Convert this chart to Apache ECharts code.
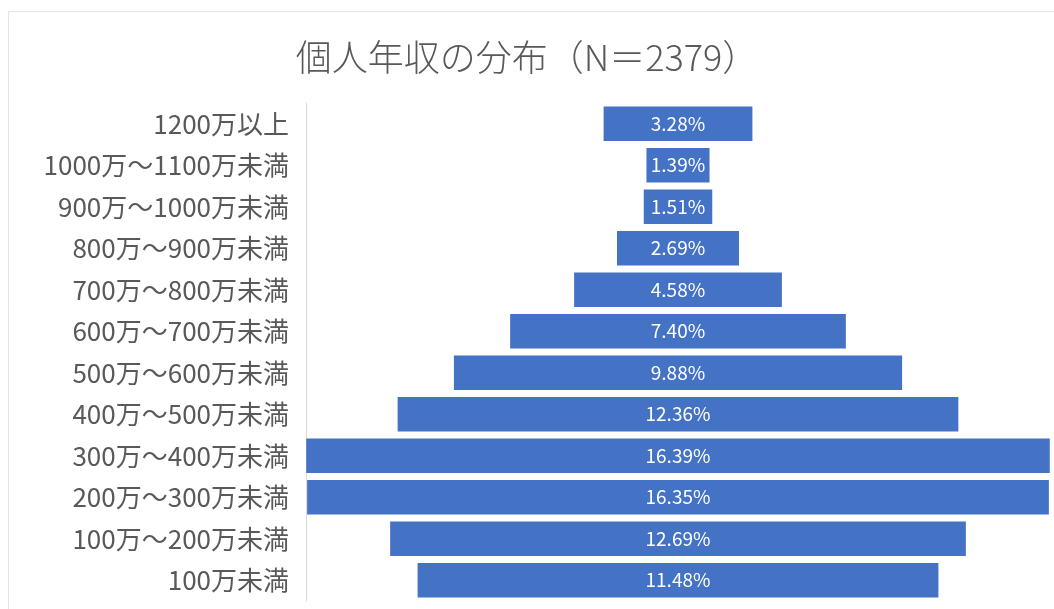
<!DOCTYPE html>
<html>
<head>
<meta charset="utf-8">
<script src="https://cdn.jsdelivr.net/npm/echarts@6/dist/echarts.min.js"></script>
<style>
  html, body { margin: 0; padding: 0; background: #fff; }
  #main { width: 1054px; height: 609px; }
</style>
</head>
<body>
<div id="main"></div>
<script>
// 上から順（表示順）
const categories = [
  '1200万以上',
  '1000万～1100万未満',
  '900万～1000万未満',
  '800万～900万未満',
  '700万～800万未満',
  '600万～700万未満',
  '500万～600万未満',
  '400万～500万未満',
  '300万～400万未満',
  '200万～300万未満',
  '100万～200万未満',
  '100万未満'
]
const shares = [3.28, 1.39, 1.51, 2.69, 4.58, 7.40, 9.88, 12.36, 16.39, 16.35, 12.69, 11.48]
const axisMax = 16.4

// 中央寄せ用の透明なオフセット
const offsets = shares.map(v => (axisMax - v) / 2)

const chart = echarts.init(document.getElementById('main'))
const font = '"Noto Sans CJK JP", "Noto Sans", sans-serif'

chart.setOption({
  backgroundColor: '#fff',
  animation: false,
  title: {
    text: '個人年収の分布（N＝2379）',
    left: 'center',
    top: 34,
    textStyle: {
      color: '#595959',
      fontSize: 36,
      fontWeight: 300,
      fontFamily: font
    }
  },
  graphic: [
    {
      type: 'rect',
      shape: { x: 8.5, y: 11.5, width: 1060, height: 620 },
      style: { fill: 'none', stroke: '#e6e6e6', lineWidth: 1 },
      silent: true
    }
  ],
  grid: {
    left: 306,
    right: 4,
    top: 103,
    bottom: 8,
    containLabel: false
  },
  xAxis: {
    type: 'value',
    min: 0,
    max: axisMax,
    show: false
  },
  yAxis: {
    type: 'category',
    data: categories,
    inverse: true,
    axisTick: { show: false },
    axisLine: { lineStyle: { color: '#d9d9d9' } },
    axisLabel: {
      color: '#595959',
      fontSize: 26,
      fontFamily: font,
      margin: 17
    }
  },
  series: [
    {
      name: 'offset',
      type: 'bar',
      stack: 'total',
      silent: true,
      itemStyle: { color: 'transparent' },
      barCategoryGap: '17%',
      data: offsets
    },
    {
      name: '割合',
      type: 'bar',
      stack: 'total',
      barCategoryGap: '17%',
      itemStyle: { color: '#4472C4' },
      label: {
        show: true,
        position: 'inside',
        color: '#fff',
        fontSize: 19,
        fontFamily: font,
        formatter: p => p.value.toFixed(2) + '%'
      },
      data: shares
    }
  ]
})
</script>
</body>
</html>
